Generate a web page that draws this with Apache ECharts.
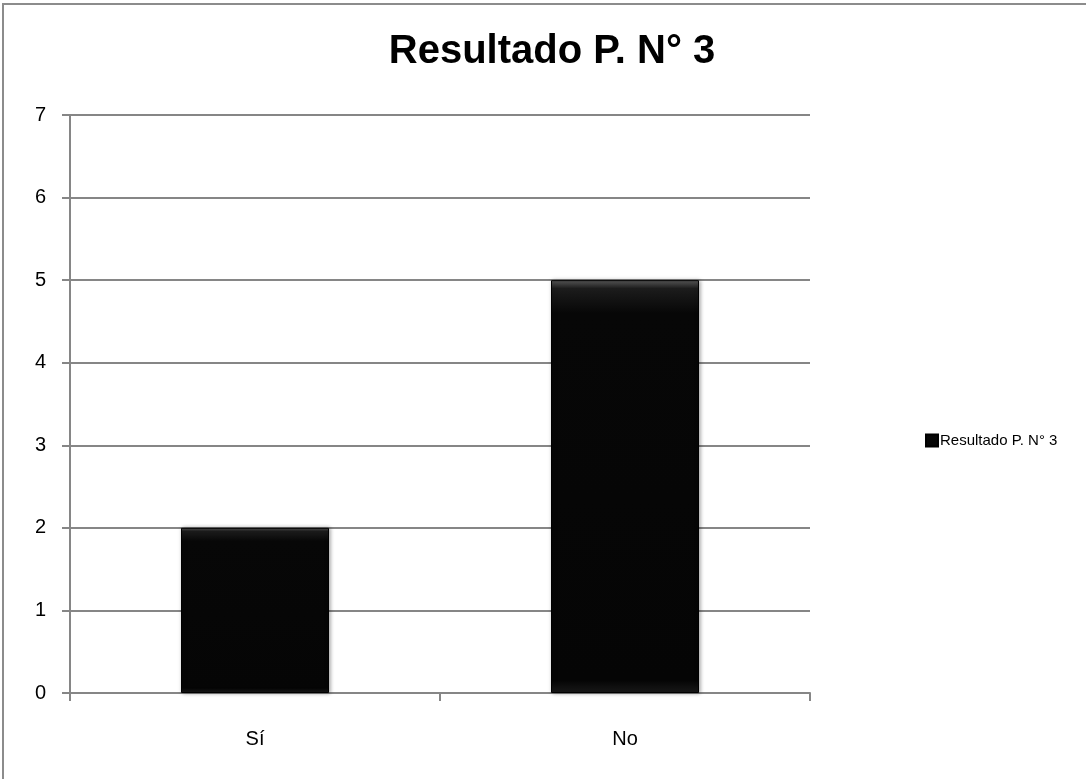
<!DOCTYPE html>
<html>
<head>
<meta charset="utf-8">
<script src="https://cdn.jsdelivr.net/npm/echarts@6/dist/echarts.min.js"></script>
<style>
  html, body { margin: 0; padding: 0; background: #fff; }
  #frame { position: absolute; left: 2px; top: 3px; width: 1090px; height: 790px; border: 2px solid #8c8c8c; box-sizing: border-box; }
  #chart { position: absolute; left: 0; top: 0; width: 1086px; height: 779px; }
</style>
</head>
<body>
<div id="frame"></div>
<div id="chart"></div>
<script>
// Survey answers for question 3
const categories = ['Sí', 'No'];
const seriesName = 'Resultado P. N° 3';
const counts = [2, 5];
const yTicks = { min: 0, max: 7, interval: 1 };

const font = '"Liberation Sans Narrow", "Liberation Sans", Arial, sans-serif';
const chart = echarts.init(document.getElementById('chart'), null, { renderer: 'canvas' });

// dark bar with a soft bevel near its top edge
const barFill = new echarts.graphic.LinearGradient(0, 0, 0, 1, [
  { offset: 0, color: '#5a5a5a' },
  { offset: 0.02, color: '#1c1c1c' },
  { offset: 0.08, color: '#070707' },
  { offset: 0.97, color: '#050505' },
  { offset: 1, color: '#1a1a1a' }
]);

chart.setOption({
  animation: false,
  title: {
    text: seriesName,
    left: 547,
    top: 27,
    textAlign: 'center',
    textStyle: { fontFamily: font, fontSize: 40, fontWeight: 'bold', color: '#000' }
  },
  legend: {
    data: [seriesName],
    left: 920,
    top: 428,
    orient: 'vertical',
    itemWidth: 12,
    itemHeight: 12,
    icon: 'rect',
    textStyle: { fontFamily: font, fontSize: 15, color: '#000', padding: [0, 0, 0, -3] }
  },
  grid: { left: 70, right: 276, top: 115, bottom: 86, containLabel: false },
  xAxis: {
    type: 'category',
    data: categories,
    axisLine: { lineStyle: { color: '#868686', width: 2 } },
    axisTick: { show: true, length: 8, lineStyle: { color: '#868686', width: 2 } },
    axisLabel: { fontFamily: font, fontSize: 20, color: '#000', margin: 36 }
  },
  yAxis: {
    type: 'value',
    min: yTicks.min,
    max: yTicks.max,
    interval: yTicks.interval,
    axisLine: { show: true, lineStyle: { color: '#868686', width: 2 } },
    axisTick: { show: true, length: 8, lineStyle: { color: '#868686', width: 2 } },
    axisLabel: { fontFamily: font, fontSize: 20, color: '#000', margin: 24 },
    splitLine: { show: true, lineStyle: { color: '#868686', width: 2 } }
  },
  series: [{
    name: seriesName,
    type: 'bar',
    data: counts,
    barWidth: '40%',
    itemStyle: {
      color: barFill,
      borderColor: '#000',
      borderWidth: 1,
      shadowColor: 'rgba(0,0,0,0.35)',
      shadowBlur: 4,
      shadowOffsetX: 1
    }
  }]
});
</script>
</body>
</html>
